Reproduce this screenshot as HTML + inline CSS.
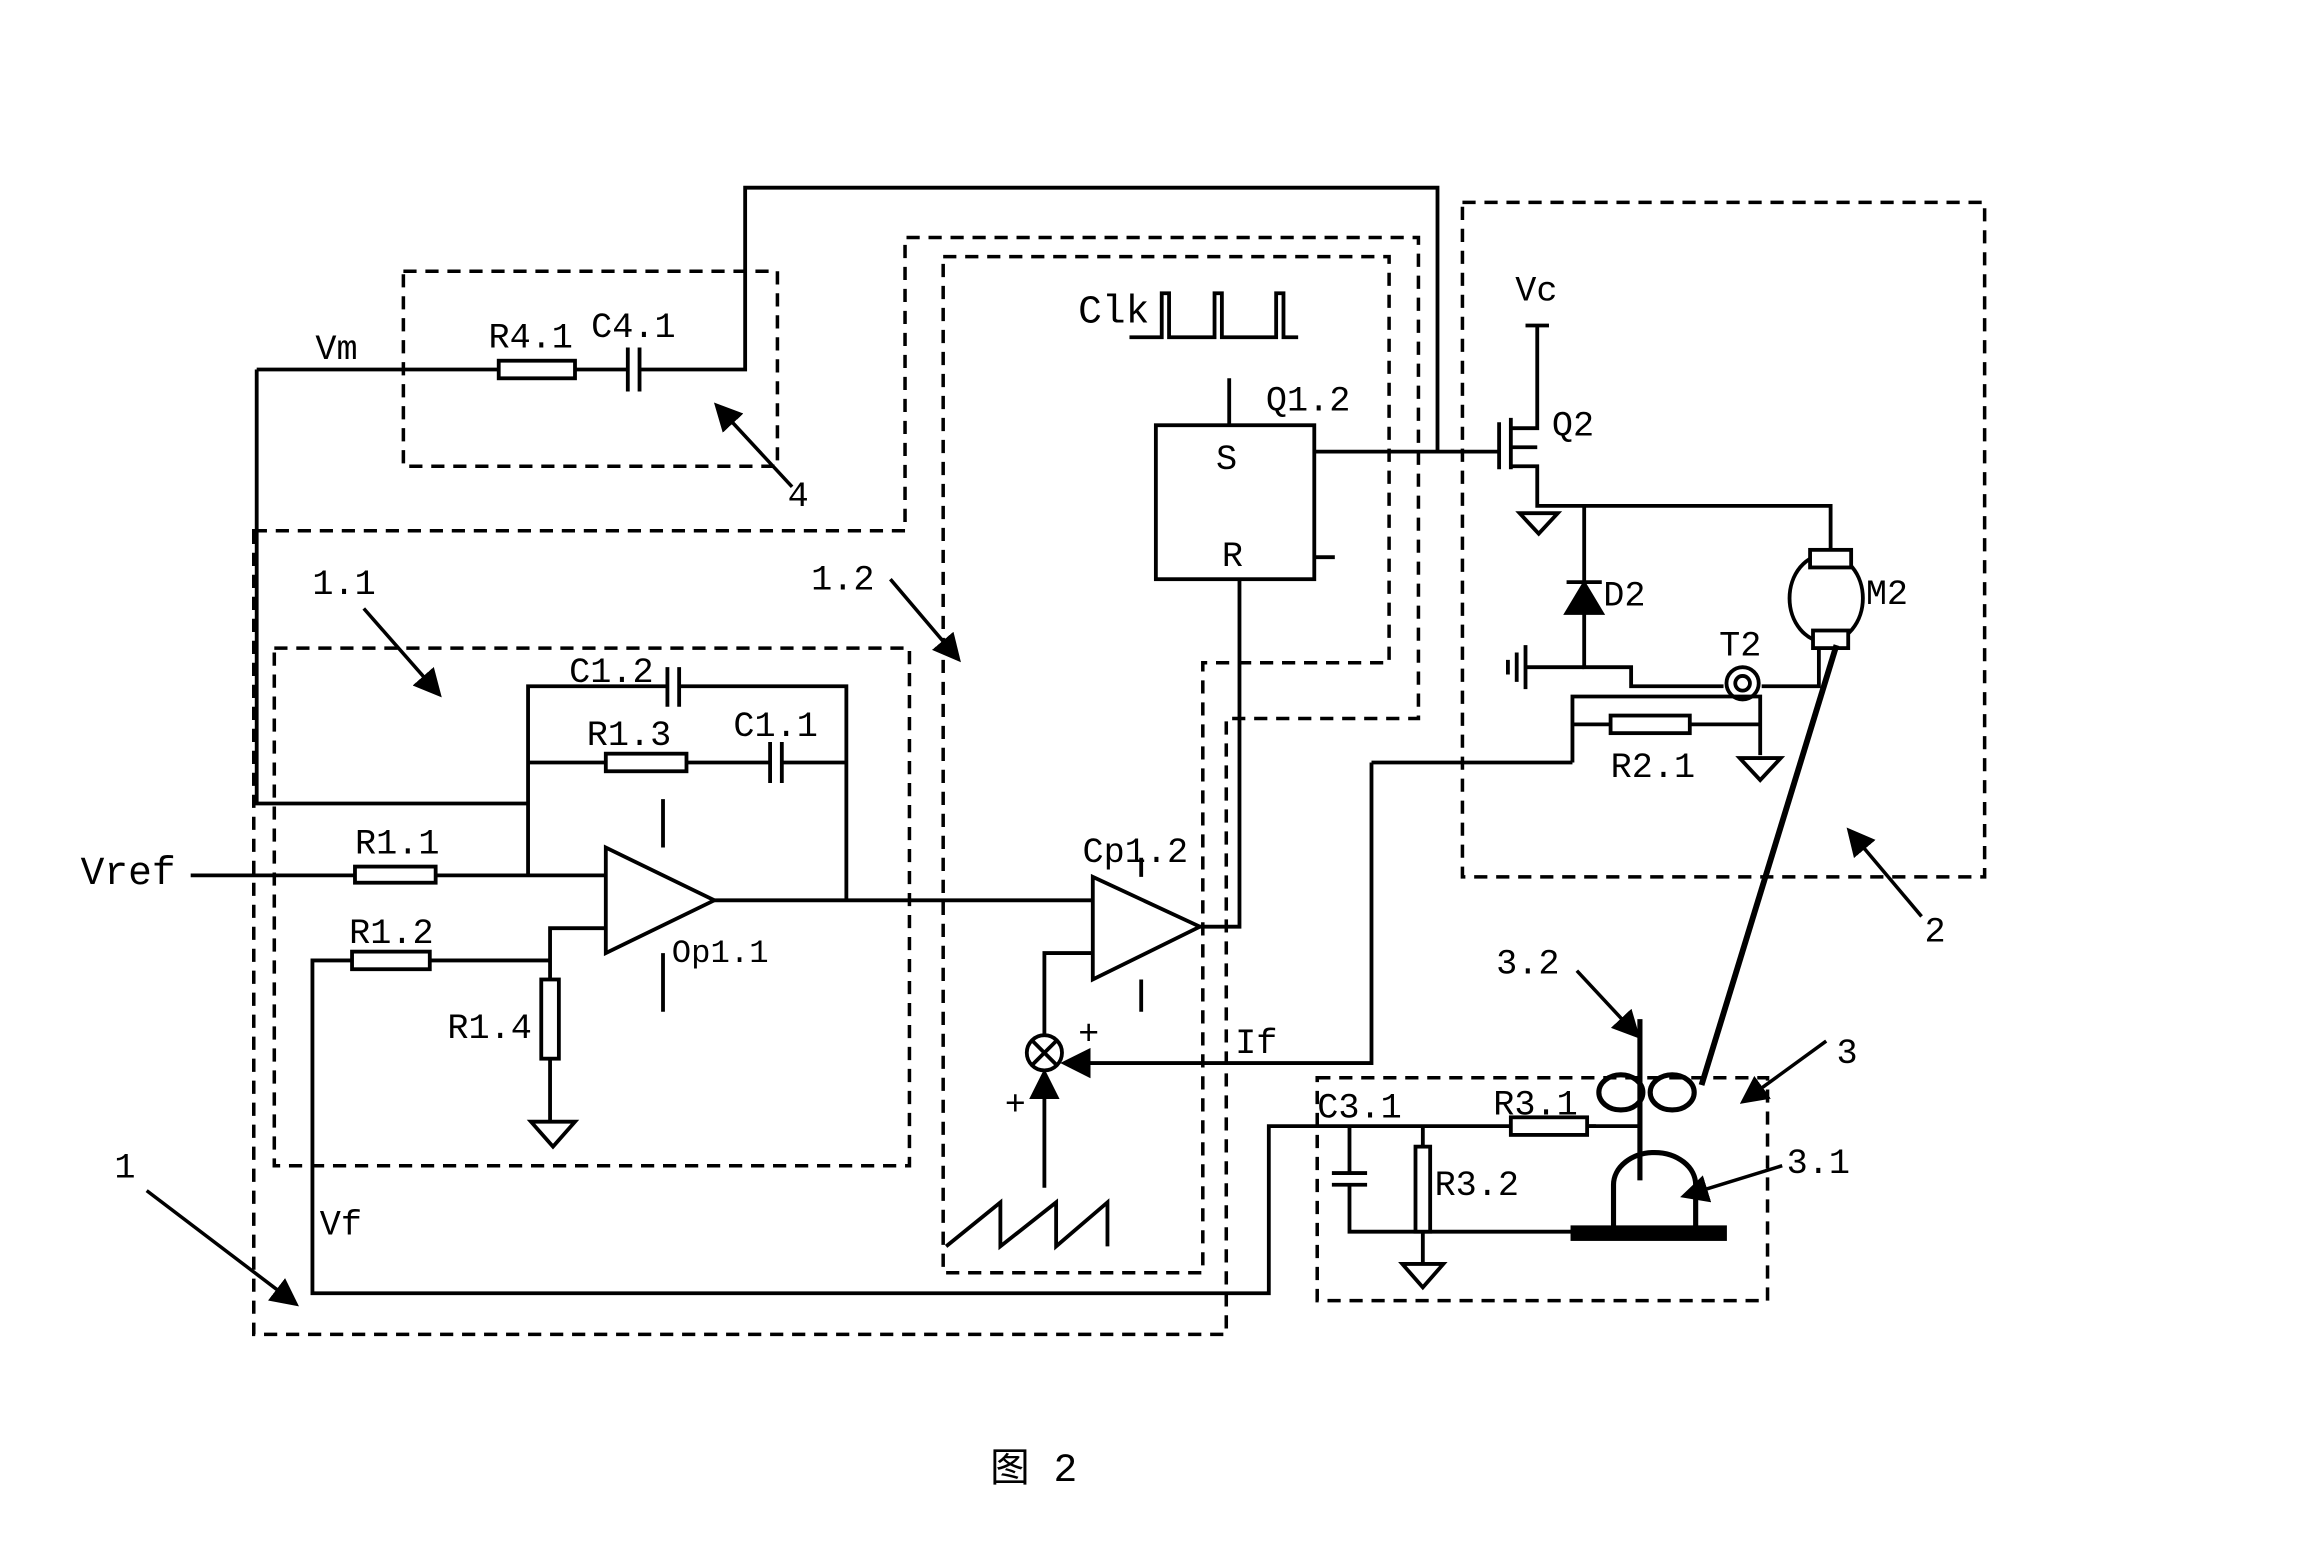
<!DOCTYPE html>
<html><head><meta charset="utf-8"><style>
html,body{margin:0;padding:0;background:#fff;}
svg{display:block;}
text{font-family:"Liberation Mono","Noto Sans CJK SC",monospace;fill:#000;}
</style></head><body>
<svg width="2300" height="1566" viewBox="0 0 1568 1068" preserveAspectRatio="none" xmlns="http://www.w3.org/2000/svg">
<defs>
<marker id="ah" markerWidth="8" markerHeight="8" refX="6" refY="4" orient="auto" markerUnits="strokeWidth"><path d="M0,0 L8,4 L0,8 z" fill="#000"/></marker>
</defs>
<g fill="none" stroke="#000" stroke-width="2.6">
<g stroke-dasharray="9,6" stroke-width="2.4">
<rect x="275" y="185" width="255" height="133"/>
<path d="M173,362 H617 V162 H967 V490 H836 V910 H173 Z"/>
<path d="M643,175 H947 V452 H820 V868 H643 Z"/>
<rect x="187" y="442" width="433" height="353"/>
<rect x="997" y="138" width="356" height="460"/>
<rect x="898" y="735" width="307" height="152"/>
</g>
<path d="M436,252 H508 V128 H980 V308"/>
<path d="M175,252 H340 M392,252 H428"/>
<rect x="340" y="246" width="52" height="12" fill="#fff"/>
<path d="M428,237 V267 M436,237 V267"/>
<path d="M175,252 V548 H360"/>
<path d="M413,578 L413,650 L487,614 Z"/>
<path d="M130,597 H242 M297,597 H413"/>
<rect x="242" y="591" width="55" height="11" fill="#fff"/>
<path d="M360,597 V468 H455 M463,468 H577 V614"/>
<path d="M455,455 V482 M463,455 V482"/>
<path d="M360,520 H413 M468,520 H525 M533,520 H577"/>
<rect x="413" y="514" width="55" height="12" fill="#fff"/>
<path d="M525,506 V534 M533,506 V534"/>
<path d="M452,545 V578 M452,650 V690"/>
<path d="M487,614 H745"/>
<path d="M413,633 H375 V668 M375,722 V765"/>
<rect x="369" y="668" width="12" height="54" fill="#fff"/>
<path d="M362,765 H392 L377,782 Z"/>
<path d="M375,655 H293 M240,655 H213 V882 H865 V768 H1088"/>
<rect x="240" y="649" width="53" height="12" fill="#fff"/>
<path d="M745,598 L745,668 L818,632 Z"/>
<path d="M778,585 V598 M778,668 V690"/>
<path d="M818,632 H845 V395"/>
<path d="M745,650 H712 V706"/>
<circle cx="712" cy="718" r="12"/>
<path d="M704,710 L720,726 M720,710 L704,726"/>
<path d="M712,810 V734" marker-end="url(#ah)"/>
<path d="M935,520 V725 H728" marker-end="url(#ah)"/>
<path d="M645,850 L682,820 V850 L720,820 V850 L755,820 V850"/>
<rect x="788" y="290" width="108" height="105"/>
<path d="M896,380 H910 M838,258 V290"/>
<path d="M770,230 H792 V200 H797 V230 H828 V200 H833 V230 H870 V200 H875 V230 H885"/>
<path d="M896,308 H1022"/>
<path d="M1022,288 V320 M1030,285 V320 M1030,292 H1048 V222 M1040,222 H1056 M1030,318 H1048 V345 H1248 V375"/>
<path d="M1030,305 H1048"/>
<path d="M1036,350 H1062 L1049,364 Z"/>
<path d="M1080,345 V455 H1112 V468 H1175 M1201,468 H1240 V440"/>
<path d="M1068,418 H1092 L1080,398 Z" fill="#000"/>
<path d="M1068,397 H1092"/>
<path d="M1040,455 H1080 M1040,440 V470 M1034,445 V465 M1028,450 V460"/>
<circle cx="1188" cy="466" r="11"/>
<circle cx="1188" cy="466" r="5"/>
<path d="M1072,520 V475 H1200 V515 M1072,494 H1098 M1152,494 H1200 M1072,520 H935"/>
<rect x="1098" y="488" width="54" height="12" fill="#fff"/>
<path d="M1186,517 H1214 L1200,532 Z"/>
<ellipse cx="1245" cy="408" rx="25" ry="30"/>
<rect x="1234" y="375" width="28" height="12" fill="#fff"/>
<rect x="1236" y="430" width="24" height="12" fill="#fff"/>
<path d="M1252,440 L1160,740" stroke-width="4"/>
<path d="M920,768 V800 M908,800 H932 M908,808 H932 M920,808 V840 H1075"/>
<rect x="965" y="782" width="10" height="58" fill="#fff"/>
<path d="M970,768 V782 M970,840 V862"/>
<path d="M956,862 H984 L970,878 Z"/>
<path d="M1082,768 H1118"/>
<rect x="1030" y="762" width="52" height="12" fill="#fff"/>
<path d="M1118,695 V805" stroke-width="3.5"/>
<path d="M1100,840 V808 A28,22 0 0 1 1156,808 V840" stroke-width="3.5"/>
<rect x="1072" y="837" width="104" height="8" fill="#000"/>
<ellipse cx="1105" cy="745" rx="15" ry="12" stroke-width="3.5"/>
<ellipse cx="1140" cy="745" rx="15" ry="12" stroke-width="3.5"/>
<g stroke-width="2.4">
<path d="M540,332 L490,278" marker-end="url(#ah)"/>
<path d="M248,415 L298,472" marker-end="url(#ah)"/>
<path d="M607,395 L652,448" marker-end="url(#ah)"/>
<path d="M100,812 L200,888" marker-end="url(#ah)"/>
<path d="M1310,625 L1262,568" marker-end="url(#ah)"/>
<path d="M1075,662 L1115,705" marker-end="url(#ah)"/>
<path d="M1245,710 L1190,750" marker-end="url(#ah)"/>
<path d="M1215,795 L1150,815" marker-end="url(#ah)"/>
</g>
</g>
<g font-size="24">
<text x="215" y="245">Vm</text>
<text x="333" y="237">R4.1</text>
<text x="403" y="230">C4.1</text>
<text x="537" y="345">4</text>
<text x="213" y="405">1.1</text>
<text x="553" y="402">1.2</text>
<text x="388" y="465">C1.2</text>
<text x="400" y="508">R1.3</text>
<text x="500" y="502">C1.1</text>
<text x="242" y="582">R1.1</text>
<text x="55" y="603" font-size="27">Vref</text>
<text x="238" y="643">R1.2</text>
<text x="458" y="656" font-size="22">Op1.1</text>
<text x="305" y="708">R1.4</text>
<text x="218" y="842">Vf</text>
<text x="78" y="803">1</text>
<text x="735" y="220" font-size="27">Clk</text>
<text x="863" y="280">Q1.2</text>
<text x="829" y="320">S</text>
<text x="833" y="386">R</text>
<text x="738" y="588">Cp1.2</text>
<text x="735" y="712">+</text>
<text x="685" y="760">+</text>
<text x="842" y="718">If</text>
<text x="1033" y="205">Vc</text>
<text x="1058" y="297">Q2</text>
<text x="1093" y="413">D2</text>
<text x="1272" y="412">M2</text>
<text x="1172" y="447">T2</text>
<text x="1098" y="530">R2.1</text>
<text x="1312" y="642">2</text>
<text x="1020" y="664">3.2</text>
<text x="1252" y="725">3</text>
<text x="898" y="762">C3.1</text>
<text x="1018" y="760">R3.1</text>
<text x="978" y="815">R3.2</text>
<text x="1218" y="800">3.1</text>
<text x="675" y="1010" font-family="'Noto Serif CJK SC','Liberation Serif',serif" font-size="27">图 2</text>
</g>
</svg>
</body></html>
